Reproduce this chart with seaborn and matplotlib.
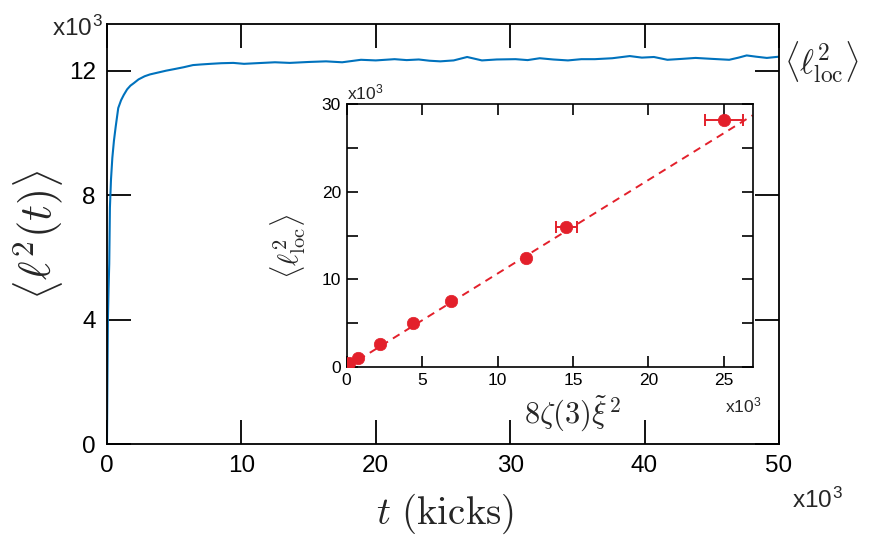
import numpy as np
import pandas as pd
import matplotlib
matplotlib.use('Agg')
import matplotlib.pyplot as plt
import seaborn as sns

# main curve, <l^2(t)> against t (both in units of 10^3)
t_kicks = [0, 0.03, 0.07, 0.12, 0.17, 0.22, 0.3, 0.4, 0.52, 0.65, 0.84, 1.05, 1.25, 1.5,
           1.75, 2.0, 2.35, 2.8, 3.2, 3.8, 4.4, 5.0, 5.7, 6.4, 7.0, 7.7, 8.5, 9.4, 10.2,
           11.1, 12.5, 13.6, 15.0, 16.3, 17.5, 18.9, 20.0, 21.4, 22.3, 23.2, 24.0, 24.8,
           25.8, 26.8, 27.9, 29.0, 30.4, 31.3, 32.2, 33.2, 34.3, 35.3, 36.3, 37.6, 38.9,
           39.8, 40.7, 41.7, 42.8, 43.8, 45.0, 46.3, 47.0, 47.6, 48.3, 49.1, 50.0]
l2_mean = [0, 1.8, 4.0, 5.0, 5.8, 7.6, 8.5, 9.2, 9.75, 10.2, 10.8, 11.05, 11.22, 11.4,
           11.52, 11.6, 11.72, 11.82, 11.88, 11.94, 12.0, 12.05, 12.11, 12.18, 12.2, 12.22,
           12.24, 12.25, 12.22, 12.24, 12.27, 12.25, 12.28, 12.3, 12.27, 12.35, 12.33,
           12.37, 12.34, 12.36, 12.32, 12.3, 12.33, 12.44, 12.33, 12.36, 12.37, 12.34,
           12.4, 12.36, 12.33, 12.37, 12.37, 12.4, 12.47, 12.42, 12.44, 12.35, 12.38,
           12.41, 12.38, 12.35, 12.42, 12.49, 12.45, 12.41, 12.45]

# inset: <l_loc^2> against 8 zeta(3) xi^2
xi_term = [0.18, 0.75, 2.19, 4.37, 6.93, 11.88, 14.55, 25.03]
l2_loc = [0.5, 1.1, 2.6, 5.05, 7.49, 12.47, 16.0, 28.2]
xi_err = [0, 0, 0, 0, 0, 0, 0.7, 1.26]
fit_slope = 1.067
fit_x = [0, 26.9]

blue = '#0072BD'
red = '#E3202B'

sns.set_theme(style='ticks')
plt.rcParams['font.family'] = ['Liberation Sans', 'DejaVu Sans']
plt.rcParams['mathtext.fontset'] = 'cm'

fig = plt.figure(figsize=(8.71, 5.36), dpi=100)
ax = fig.add_axes([0.1228, 0.1716, 0.7715, 0.7836])

main_df = pd.DataFrame({'t': t_kicks, 'l2': l2_mean})
sns.lineplot(data=main_df, x='t', y='l2', ax=ax, color=blue, linewidth=1.5)
ax.set_xlim(0, 50)
ax.set_ylim(0, 13.5)
ax.set_xticks([0, 10, 20, 30, 40, 50])
ax.set_yticks([0, 4, 8, 12])
ax.set_xlabel('')
ax.set_ylabel('')
ax.tick_params(direction='in', length=17, width=1.3, top=True, right=True,
               labelsize=17.5, pad=8, colors='black')
for s in ax.spines.values():
    s.set_linewidth(1.3)
    s.set_color('black')

fig.text(0.044, 0.563, r'$\left\langle \ell^2(t) \right\rangle$', rotation=90,
         ha='center', va='center', fontsize=32)
fig.text(0.511, 0.042, r'$t\ \mathrm{(kicks)}$', ha='center', va='center', fontsize=28)
fig.text(0.118, 0.933, r'x10$^{\mathregular{3}}$', ha='right', va='baseline', fontsize=17.5)
fig.text(0.909, 0.052, r'x10$^{\mathregular{3}}$', ha='left', va='baseline', fontsize=17.5)
fig.text(0.900, 0.884, r'$\langle \ell^2_{\mathrm{loc}} \rangle$', ha='left', va='center',
         fontsize=24)

# inset
ins = fig.add_axes([0.398, 0.315, 0.466, 0.491])
ins.set_facecolor('white')
fit_df = pd.DataFrame({'x': fit_x, 'y': [fit_slope * v for v in fit_x]})
sns.lineplot(data=fit_df, x='x', y='y', ax=ins, color=red, linewidth=1.4,
             linestyle=(0, (4, 3)))
xe = np.array(xi_err)
m = xe > 0
ins.errorbar(np.array(xi_term)[m], np.array(l2_loc)[m], xerr=xe[m], fmt='none',
             ecolor=red, elinewidth=1.4, capsize=4, capthick=1.4)
pts = pd.DataFrame({'x': xi_term, 'y': l2_loc})
sns.scatterplot(data=pts, x='x', y='y', ax=ins, color=red, s=80, edgecolor=red,
                linewidth=0.5, zorder=5)
ins.set_xlim(0, 26.9)
ins.set_ylim(0, 30)
ins.set_xticks([0, 5, 10, 15, 20, 25])
ins.set_yticks([0, 10, 20, 30])
ins.set_yticks([5, 15, 25], minor=True)
ins.set_xlabel('')
ins.set_ylabel('')
ins.tick_params(which='both', direction='in', length=8, width=1.2, top=True, right=True,
                labelsize=12.5, pad=4, colors='black')
for s in ins.spines.values():
    s.set_linewidth(1.2)
    s.set_color('black')

fig.text(0.331, 0.541, r'$\langle \ell^2_{\mathrm{loc}} \rangle$', rotation=90,
         ha='center', va='center', fontsize=21)
fig.text(0.657, 0.228, r'$8\zeta(3)\tilde{\xi}^{\,2}$', ha='center', va='center',
         fontsize=22)
fig.text(0.398, 0.813, r'x10$^{\mathregular{3}}$', ha='left', va='baseline', fontsize=12.5)
fig.text(0.832, 0.229, r'x10$^{\mathregular{3}}$', ha='left', va='baseline', fontsize=12.5)

fig.savefig('out.png', dpi=100)
